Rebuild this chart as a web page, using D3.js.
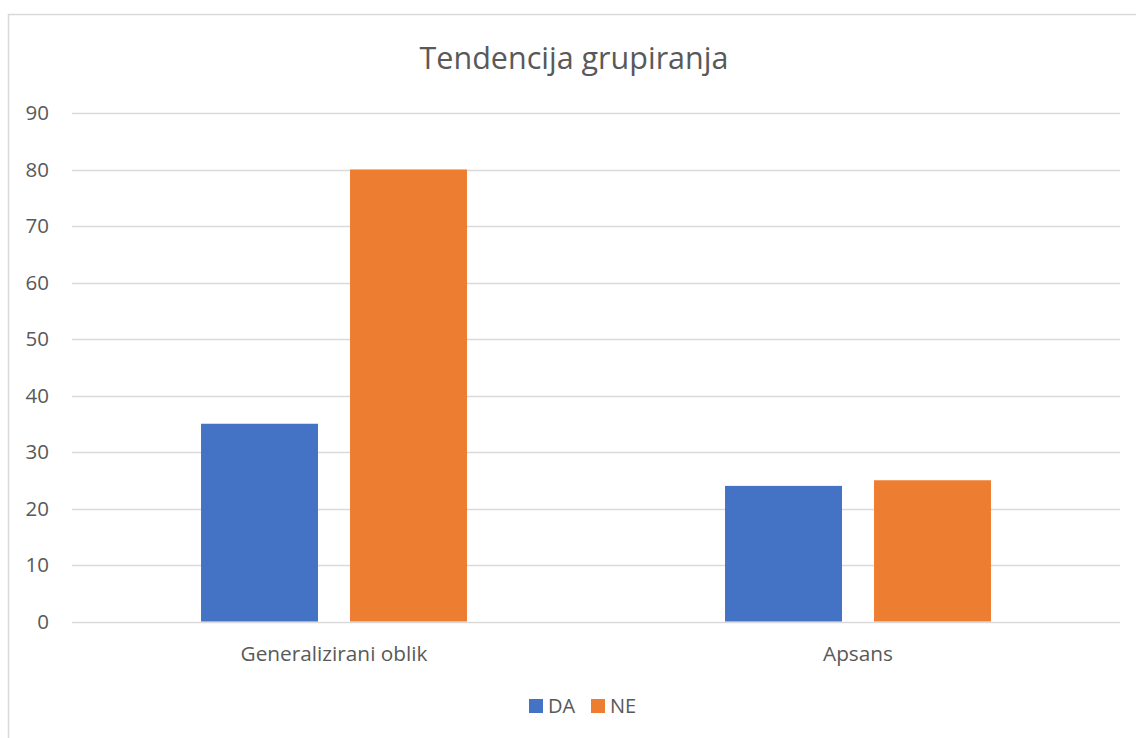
<!doctype html>
<html lang="hr">
<head>
  <meta charset="utf-8">
  <title>Tendencija grupiranja</title>
  <style>
    body { margin: 0; background: #fff; }
    text { font-family: "Open Sans", sans-serif; fill: #595959; }
  </style>
</head>
<body>
  <div id="chart"></div>
  <script src="https://cdn.jsdelivr.net/npm/d3@7/dist/d3.min.js"></script>
  <script>
    const categories = ['Generalizirani oblik', 'Apsans'];
    const seriesNames = ['DA', 'NE'];
    const daValues = [35, 24];
    const neValues = [80, 25];
    const yTicks = [0, 10, 20, 30, 40, 50, 60, 70, 80, 90];
    const colors = ['#4472C4', '#ED7D31'];

    const w = 1136, h = 738;
    const plot = { left: 72, right: 1120, top: 113, bottom: 621.5 };

    const svg = d3.select('#chart')
      .append('svg')
        .attr('width', w)
        .attr('height', h);

    // chart frame
    svg.append('rect')
      .attr('x', 8.5)
      .attr('y', 14.5)
      .attr('width', 1160)
      .attr('height', 760)
      .attr('fill', 'none')
      .attr('stroke', '#d9d9d9')
      .attr('stroke-width', 1.5);

    svg.append('text')
      .attr('x', 574)
      .attr('y', 69)
      .attr('text-anchor', 'middle')
      .style('font-size', '30.5px')
      .text('Tendencija grupiranja');

    const y = d3.scaleLinear()
      .domain([0, 90])
      .range([plot.bottom, plot.top]);

    const x0 = d3.scaleBand()
      .domain(categories)
      .range([plot.left, plot.right]);

    const x1 = d3.scaleBand()
      .domain(seriesNames)
      .range([0, x0.bandwidth()])
      .paddingInner(0.215)
      .paddingOuter(0.866);

    // gridlines
    svg.append('g')
      .selectAll('line')
      .data(yTicks)
      .join('line')
        .attr('x1', plot.left)
        .attr('x2', plot.right)
        .attr('y1', d => Math.round(y(d)) + 0.5)
        .attr('y2', d => Math.round(y(d)) + 0.5)
        .attr('stroke', '#d9d9d9')
        .attr('stroke-width', 1.5);

    // y labels
    svg.append('g')
      .selectAll('text')
      .data(yTicks)
      .join('text')
        .attr('x', 49)
        .attr('y', d => y(d))
        .attr('dy', '0.35em')
        .attr('text-anchor', 'end')
        .style('font-size', '20.5px')
        .text(d => d);

    const rows = categories.map((c, i) => ({ cat: c, DA: daValues[i], NE: neValues[i] }));

    svg.append('g')
      .selectAll('g')
      .data(rows)
      .join('g')
        .attr('transform', d => `translate(${x0(d.cat)},0)`)
      .selectAll('rect')
      .data(d => seriesNames.map((s, i) => ({ key: s, value: d[s], color: colors[i] })))
      .join('rect')
        .attr('x', d => x1(d.key))
        .attr('y', d => y(d.value))
        .attr('width', x1.bandwidth())
        .attr('height', d => y(0) - y(d.value))
        .attr('fill', d => d.color);

    // category labels
    svg.append('g')
      .selectAll('text')
      .data(categories)
      .join('text')
        .attr('x', d => x0(d) + x0.bandwidth() / 2)
        .attr('y', 661)
        .attr('text-anchor', 'middle')
        .style('font-size', '20.8px')
        .text(d => d);

    // legend
    const legend = svg.append('g')
      .selectAll('g')
      .data(seriesNames)
      .join('g')
        .attr('transform', (d, i) => `translate(${529 + i * 62},699)`);

    legend.append('rect')
      .attr('width', 14)
      .attr('height', 14)
      .attr('fill', (d, i) => colors[i]);

    legend.append('text')
      .attr('x', 19)
      .attr('y', 7)
      .attr('dy', '0.35em')
      .style('font-size', '20px')
      .text(d => d);
  </script>
</body>
</html>
